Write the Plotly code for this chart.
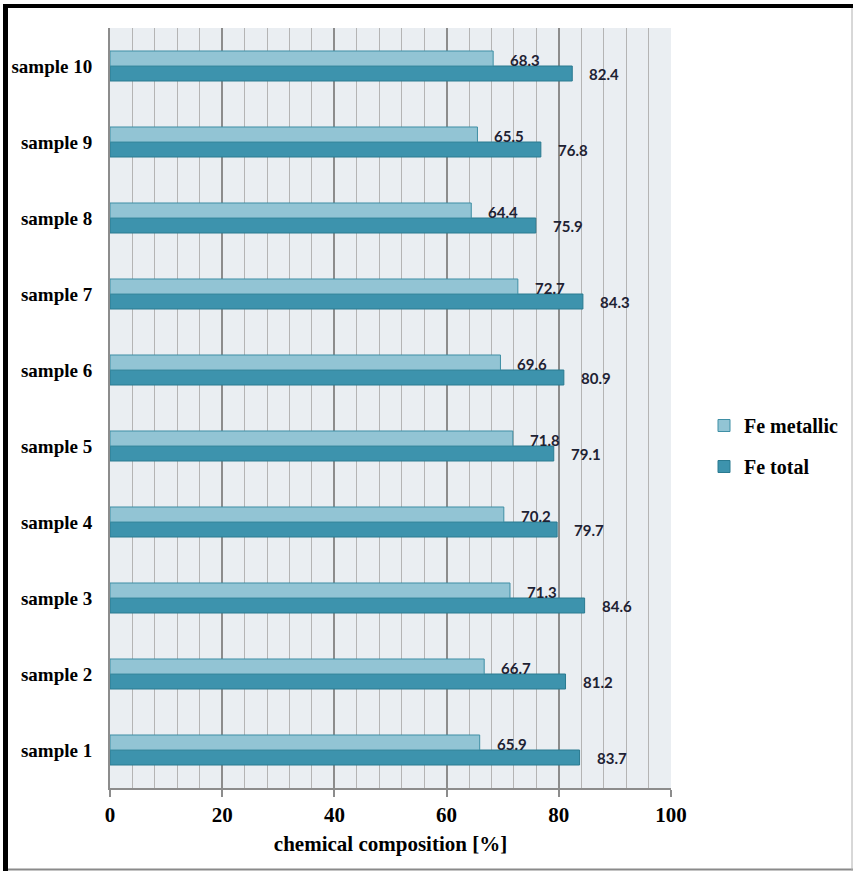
import plotly.graph_objects as go

samples = ["sample 1", "sample 2", "sample 3", "sample 4", "sample 5",
           "sample 6", "sample 7", "sample 8", "sample 9", "sample 10"]
fe_total = [83.7, 81.2, 84.6, 79.7, 79.1, 80.9, 84.3, 75.9, 76.8, 82.4]
fe_metallic = [65.9, 66.7, 71.3, 70.2, 71.8, 69.6, 72.7, 64.4, 65.5, 68.3]

W, H = 853, 871
ML, MR, MT, MB = 110, 182, 28, 83
PW, PH = W - ML - MR, H - MT - MB

SERIF = "Liberation Serif"
LABEL_FONT = dict(family="Lato", size=15, color="#1e2233", weight="bold")

fig = go.Figure()
fig.add_trace(go.Bar(
    y=samples, x=fe_total, name="Fe total", orientation="h",
    marker=dict(color="#3d93ad", line=dict(color="#2a7a90", width=1)),
    legendgroup="total", legendrank=2,
))
fig.add_trace(go.Bar(
    y=samples, x=fe_metallic, name="Fe metallic", orientation="h",
    marker=dict(color="#92c4d4", line=dict(color="#3f8fa5", width=1)),
    legendgroup="metallic", legendrank=1,
))

# value labels to the right of each bar end
for s, v in zip(samples, fe_metallic):
    fig.add_annotation(x=v, y=s, text=f"{v:.1f}", showarrow=False,
                       xanchor="left", yanchor="middle", xshift=15, yshift=6,
                       font=LABEL_FONT)
for s, v in zip(samples, fe_total):
    fig.add_annotation(x=v, y=s, text=f"{v:.1f}", showarrow=False,
                       xanchor="left", yanchor="middle", xshift=15, yshift=-8,
                       font=LABEL_FONT)


def px_x(p):
    return (p - ML) / PW


def px_y(p):
    return (H - MB - p) / PH


# page frame: heavy dark edges top/left, thin grey edges bottom/right
fig.add_shape(type="rect", xref="paper", yref="paper",
              x0=px_x(3), x1=px_x(8), y0=px_y(871), y1=px_y(4),
              fillcolor="black", line_width=0, layer="above")
fig.add_shape(type="rect", xref="paper", yref="paper",
              x0=px_x(3), x1=px_x(853), y0=px_y(8), y1=px_y(4),
              fillcolor="black", line_width=0, layer="above")
fig.add_shape(type="line", xref="paper", yref="paper",
              x0=px_x(8), x1=px_x(853), y0=px_y(869.5), y1=px_y(869.5),
              line=dict(color="#8a8a8a", width=2), layer="above")
fig.add_shape(type="line", xref="paper", yref="paper",
              x0=px_x(852), x1=px_x(852), y0=px_y(8), y1=px_y(871),
              line=dict(color="#b0b0b0", width=1), layer="above")

fig.update_layout(
    width=W, height=H,
    margin=dict(l=ML, r=MR, t=MT, b=MB, autoexpand=False),
    paper_bgcolor="white",
    plot_bgcolor="#eaeef2",
    barmode="group",
    bargap=0.605,
    bargroupgap=0,
    showlegend=True,
    legend=dict(
        x=px_x(704), y=px_y(446), xanchor="left", yanchor="middle",
        traceorder="grouped", tracegroupgap=12,
        font=dict(family=SERIF, size=20, color="black", weight="bold"),
        bgcolor="rgba(0,0,0,0)", itemwidth=30,
    ),
    xaxis=dict(
        range=[0, 100], dtick=20, tick0=0,
        showgrid=True, gridcolor="#8c8c8c", gridwidth=1.5,
        minor=dict(dtick=4, showgrid=True, gridcolor="#b4b4b4", gridwidth=1),
        showline=True, linecolor="#8c8c8c", linewidth=2,
        ticks="outside", ticklen=7, tickcolor="#8c8c8c", tickwidth=1.5,
        tickfont=dict(family=SERIF, size=21, color="black", weight="bold"),
        zeroline=False,
        title=dict(text="chemical composition [%]", standoff=10,
                   font=dict(family=SERIF, size=21, color="black", weight="bold")),
        mirror=False,
    ),
    yaxis=dict(
        categoryorder="array", categoryarray=samples,
        showgrid=False, showline=True, linecolor="#8c8c8c", linewidth=2,
        ticks="outside", ticklen=0, tickcolor="rgba(0,0,0,0)",
        ticklabelstandoff=12,
        tickfont=dict(family=SERIF, size=19, color="black", weight="bold"),
    ),
)

fig.write_html("out.html")
